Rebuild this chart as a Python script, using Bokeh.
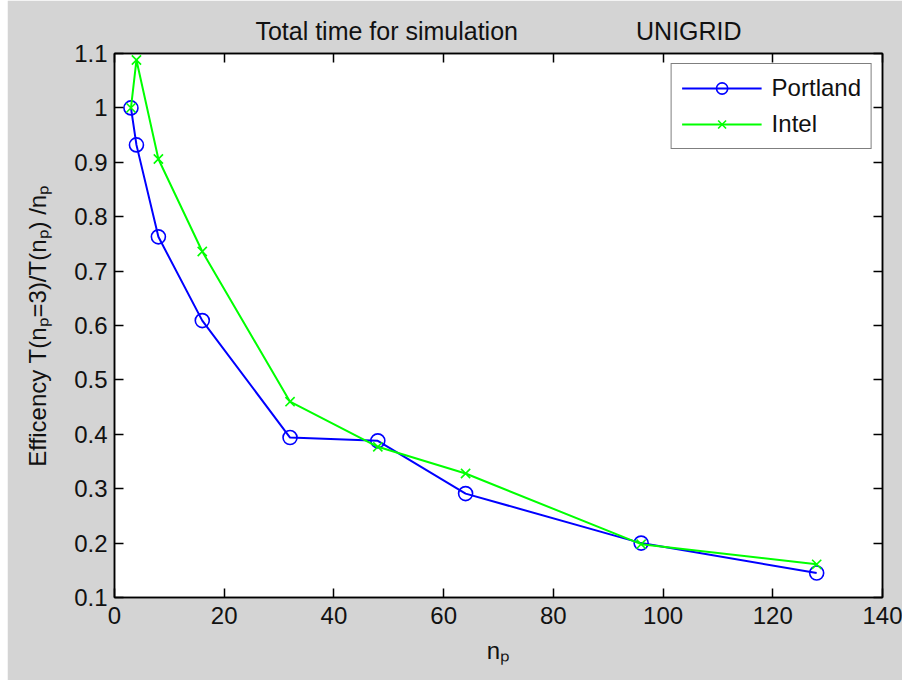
from bokeh.plotting import figure
from bokeh.models import (Range1d, FixedTicker, LinearAxis, Legend, LegendItem,
                          CustomJSTickFormatter)
from bokeh.embed import file_html
from bokeh.resources import INLINE

# ---- data ----
np_vals = [3, 4, 8, 16, 32, 48, 64, 96, 128]
portland = [1.0, 0.932, 0.763, 0.609, 0.394, 0.388, 0.291, 0.200, 0.145]
intel = [1.0, 1.088, 0.906, 0.736, 0.460, 0.377, 0.328, 0.198, 0.161]

x_ticks = [0, 20, 40, 60, 80, 100, 120, 140]
y_ticks = [0.1, 0.2, 0.3, 0.4, 0.5, 0.6, 0.7, 0.8, 0.9, 1.0, 1.1]

title_left = "Total time for simulation"
title_right = "UNIGRID"
x_label = "n\u209a"
y_label = "Efficency T(n\u209a=3)/T(n\u209a) /n\u209a"
series_names = ["Portland", "Intel"]

FONT = "Liberation Sans"
FS = "24px"
BG = "#d4d4d4"

p = figure(width=895, height=680, output_backend="svg", toolbar_location=None,
           x_range=Range1d(x_ticks[0], x_ticks[-1]),
           y_range=Range1d(y_ticks[0], y_ticks[-1]),
           min_border_left=107, min_border_right=20,
           min_border_top=53, min_border_bottom=83,
           background_fill_color="white", border_fill_color=BG,
           title=title_left + "\u00a0" * 17 + title_right)
p.margin = (0, 0, 0, 7)
p.outline_line_color = "black"
p.outline_line_width = 1.5
p.xgrid.visible = False
p.ygrid.visible = False

p.title.align = "center"
p.title.text_font = FONT
p.title.text_font_size = "25px"
p.title.text_font_style = "normal"
p.title.text_color = "#111111"
p.title.standoff = 18

yfmt = CustomJSTickFormatter(code="var v = Math.round(tick*10)/10; return v.toString();")


def style_axis(ax, ticks, show_labels=True):
    ax.ticker = FixedTicker(ticks=ticks)
    ax.major_tick_in = 9
    ax.major_tick_out = 0
    ax.major_tick_line_color = "black"
    ax.major_tick_line_width = 1.5
    ax.minor_tick_line_color = None
    ax.axis_line_color = "black"
    ax.axis_line_width = 1.5
    ax.major_label_text_font = FONT
    ax.major_label_text_font_size = FS
    ax.major_label_text_color = "#111111"
    ax.axis_label_text_font = FONT
    ax.axis_label_text_font_size = FS
    ax.axis_label_text_font_style = "normal"
    ax.axis_label_text_color = "#111111"
    if not show_labels:
        ax.formatter = CustomJSTickFormatter(code="return '';")
        ax.major_label_text_font_size = "0px"
        ax.major_label_standoff = 0


style_axis(p.xaxis[0], x_ticks)
p.xaxis[0].major_label_standoff = 9
p.xaxis[0].axis_label = x_label
p.xaxis[0].axis_label_standoff = 10

style_axis(p.yaxis[0], y_ticks)
p.yaxis[0].formatter = yfmt
p.yaxis[0].major_label_standoff = 7
p.yaxis[0].axis_label = y_label
p.yaxis[0].axis_label_standoff = 20

top_ax = LinearAxis()
style_axis(top_ax, x_ticks, show_labels=False)
p.add_layout(top_ax, "above")
right_ax = LinearAxis()
style_axis(right_ax, y_ticks, show_labels=False)
p.add_layout(right_ax, "right")

r1l = p.line(np_vals, portland, line_color="#0000ff", line_width=2)
r1m = p.scatter(np_vals, portland, marker="circle", size=14, fill_color=None,
                line_color="#0000ff", line_width=1.6)
r2l = p.line(np_vals, intel, line_color="#00ff00", line_width=2)
r2m = p.scatter(np_vals, intel, marker="x", size=13,
                line_color="#00ff00", line_width=1.6)

legend = Legend(items=[LegendItem(label=series_names[0], renderers=[r1l, r1m]),
                       LegendItem(label=series_names[1], renderers=[r2l, r2m])],
                location="top_right")
legend.border_line_color = "black"
legend.border_line_width = 1.5
legend.background_fill_color = "white"
legend.background_fill_alpha = 1.0
legend.label_text_font = FONT
legend.label_text_font_size = FS
legend.label_text_color = "#111111"
legend.padding = 10
legend.spacing = 8
legend.glyph_width = 80
legend.glyph_height = 28
legend.label_height = 28
legend.label_standoff = 10
legend.margin = 10
p.add_layout(legend)

open("out.html", "w").write(file_html(p, INLINE))
